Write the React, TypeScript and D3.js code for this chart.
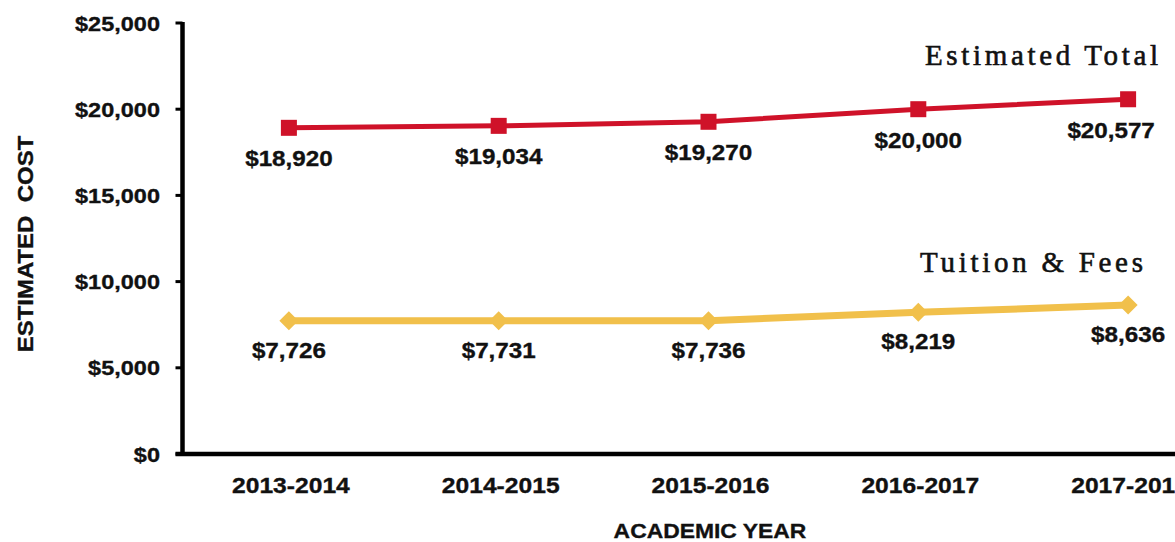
import React from "react";
import * as d3 from "d3";

const years = ["2013-2014", "2014-2015", "2015-2016", "2016-2017", "2017-2018"];
const estimatedTotal = [18920, 19034, 19270, 20000, 20577];
const tuitionFees = [7726, 7731, 7736, 8219, 8636];
const yTicks = [0, 5000, 10000, 15000, 20000, 25000];
const seriesNames = ["Estimated Total", "Tuition & Fees"];

const W = 1175;
const H = 542;
const RED = "#CF1229";
const GOLD = "#F1C04B";
const SANS = "'Liberation Sans', Arial, sans-serif";
const SERIF = "'Liberation Serif', 'Times New Roman', serif";
const INK = "#111";

export default function App() {
  const x = d3.scalePoint<string>().domain(years).range([184, 1233]).padding(0.5);
  const y = d3.scaleLinear().domain([0, 25000]).range([454, 23]);
  const fmt = (v: number) => "$" + d3.format(",")(v);
  const line = d3
    .line<number>()
    .x((_, i) => x(years[i]) as number)
    .y((d) => y(d));

  const axisX = x.range()[0] - 1.5;

  const sx = (cx: number, cy: number, s: number) =>
    `translate(${cx},${cy}) scale(${s},1)`;

  const bold = {
    fontFamily: SANS,
    fontWeight: "bold" as const,
    fill: INK,
    stroke: INK,
    strokeWidth: 0.35,
  };

  return (
    <svg
      width={W}
      height={H}
      style={{ position: "absolute", left: 0, top: 0, background: "#fff" }}
    >
      {/* y axis */}
      <line x1={axisX} x2={axisX} y1={y(25000) - 1} y2={y(0) + 2} stroke="#000" strokeWidth={4.5} />
      {yTicks.map((t) => (
        <g key={t}>
          <line x1={axisX - 7} x2={axisX} y1={y(t)} y2={y(t)} stroke="#000" strokeWidth={3} />
          <text transform={sx(160, y(t) + 7.5, 1.12)} textAnchor="end" fontSize={21} {...bold}>
            {fmt(t)}
          </text>
        </g>
      ))}
      {/* x axis */}
      <line x1={axisX - 7} x2={W + 10} y1={y(0)} y2={y(0)} stroke="#000" strokeWidth={4.5} />
      {years.map((yr) => (
        <text
          key={yr}
          transform={sx((x(yr) as number) + 2, 493, 1.12)}
          textAnchor="middle"
          fontSize={22}
          {...bold}
        >
          {yr}
        </text>
      ))}
      {/* axis titles */}
      <text transform={sx(710, 538, 1.09)} textAnchor="middle" fontSize={21} {...bold}>
        ACADEMIC YEAR
      </text>
      <text
        transform={`translate(33,244) rotate(-90) scale(1.09,1)`}
        textAnchor="middle"
        fontSize={22}
        {...bold}
        style={{ whiteSpace: "pre" }}
      >
        {"ESTIMATED  COST"}
      </text>

      {/* Tuition & Fees series */}
      <path d={line(tuitionFees) || ""} fill="none" stroke={GOLD} strokeWidth={7} />
      {tuitionFees.map((v, i) => {
        const cx = x(years[i]) as number;
        const cy = y(v);
        return (
          <g key={"t" + i}>
            <path
              d={`M${cx},${cy - 9.5}L${cx + 9.5},${cy}L${cx},${cy + 9.5}L${cx - 9.5},${cy}Z`}
              fill={GOLD}
            />
            <text transform={sx(cx, cy + 37, 1.1)} textAnchor="middle" fontSize={22} {...bold}>
              {fmt(v)}
            </text>
          </g>
        );
      })}

      {/* Estimated Total series */}
      <path d={line(estimatedTotal) || ""} fill="none" stroke={RED} strokeWidth={5} />
      {estimatedTotal.map((v, i) => {
        const cx = x(years[i]) as number;
        const cy = y(v);
        const nudge = i === estimatedTotal.length - 1 ? -17 : 0;
        return (
          <g key={"e" + i}>
            <rect x={cx - 8} y={cy - 8} width={16} height={16} fill={RED} />
            <text transform={sx(cx + nudge, cy + 38.5, 1.1)} textAnchor="middle" fontSize={22} {...bold}>
              {fmt(v)}
            </text>
          </g>
        );
      })}

      {/* series labels */}
      <text
        x={925}
        y={65}
        fontFamily={SERIF}
        fontSize={29}
        textLength={233}
        lengthAdjust="spacing"
        fill={INK}
        stroke={INK}
        strokeWidth={0.6}
      >
        {seriesNames[0]}
      </text>
      <text
        x={920}
        y={272}
        fontFamily={SERIF}
        fontSize={29}
        textLength={223}
        lengthAdjust="spacing"
        fill={INK}
        stroke={INK}
        strokeWidth={0.6}
      >
        {seriesNames[1]}
      </text>
    </svg>
  );
}
